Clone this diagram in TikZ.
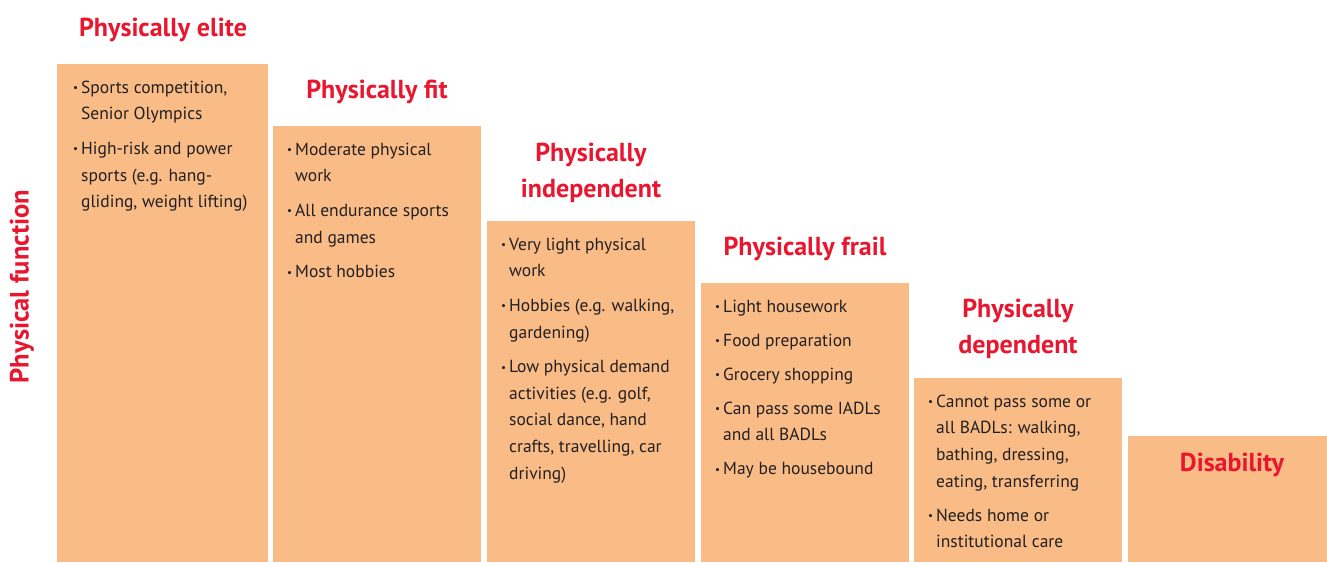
\documentclass[tikz,border=0pt]{standalone}
\usepackage{fontspec}
\setmainfont{PT Sans}
\definecolor{boxfill}{RGB}{249,188,134}
\definecolor{titlered}{RGB}{232,22,46}
\definecolor{textdark}{RGB}{35,31,32}
\newcommand\bu{\llap{\fontsize{11}{11}\selectfont\raisebox{1.5pt}{•}\hspace{3pt}}}
\newcommand\fs{\rule{0pt}{14pt}}
\tikzset{
  col/.style={fill=boxfill, draw=none, inner sep=0, anchor=north west},
  ttl/.style={anchor=base, text=titlered, font=\fontsize{26}{30}\selectfont\bfseries, inner sep=0},
  body/.style={anchor=north west, align=left, inner sep=0, font=\fontsize{17.5}{26.6}\selectfont, text=textdark}
}
\begin{document}
\begin{tikzpicture}[x=1pt,y=-1pt]
\useasboundingbox (0,0) rectangle (1327,562);
% columns
\node[col, minimum width=211pt, minimum height=498pt] (b1) at (57,64) {};
\node[col, minimum width=208pt, minimum height=436pt] (b2) at (273,126) {};
\node[col, minimum width=208pt, minimum height=341pt] (b3) at (487,221) {};
\node[col, minimum width=208pt, minimum height=279pt] (b4) at (701,283) {};
\node[col, minimum width=208pt, minimum height=184pt] (b5) at (914,378) {};
\node[col, minimum width=199pt, minimum height=126pt] (b6) at (1128,436) {};
% titles
\node[ttl] (t1) at (163,36.5) {Physically elite};
\node[ttl] (t2) at (377,98.5) {Physically fit};
\node[ttl] (t3a) at (591,161.5) {Physically};
\node[ttl] (t3b) at (591,197.5) {independent};
\node[ttl] (t4) at (805,255.5) {Physically frail};
\node[ttl] (t5a) at (1018,317) {Physically};
\node[ttl] (t5b) at (1018,353) {dependent};
\node[ttl] (t6) at (1232,471.5) {Disability};
\node[ttl, anchor=center, rotate=90, font=\fontsize{26.5}{30}\selectfont\bfseries] (axis) at (22,286.5) {Physical function};
% bodies
\node[body] (l1) at (81,79) {\fs\bu Sports competition,\\Senior Olympics\\[8pt]
\bu High-risk and power\\sports (e.g. hang-\\gliding, weight lifting)};
\node[body] (l2) at (295,141) {\fs\bu Moderate physical\\work\\[8pt]
\bu All endurance sports\\and games\\[8pt]
\bu Most hobbies};
\node[body] (l3) at (509,236) {\fs\bu Very light physical\\work\\[8pt]
\bu Hobbies (e.g. walking,\\gardening)\\[8pt]
\bu Low physical demand\\activities (e.g. golf,\\social dance, hand\\crafts, travelling, car\\driving)};
\node[body] (l4) at (723,298) {\fs\bu Light housework\\[7.4pt]
\bu Food preparation\\[7.4pt]
\bu Grocery shopping\\[7.4pt]
\bu Can pass some IADLs\\and all BADLs\\[7.4pt]
\bu May be housebound};
\node[body] (l5) at (936,393) {\fs\bu Cannot pass some or\\all BADLs: walking,\\bathing, dressing,\\eating, transferring\\[7.4pt]
\bu Needs home or\\institutional care};
\end{tikzpicture}
\end{document}
